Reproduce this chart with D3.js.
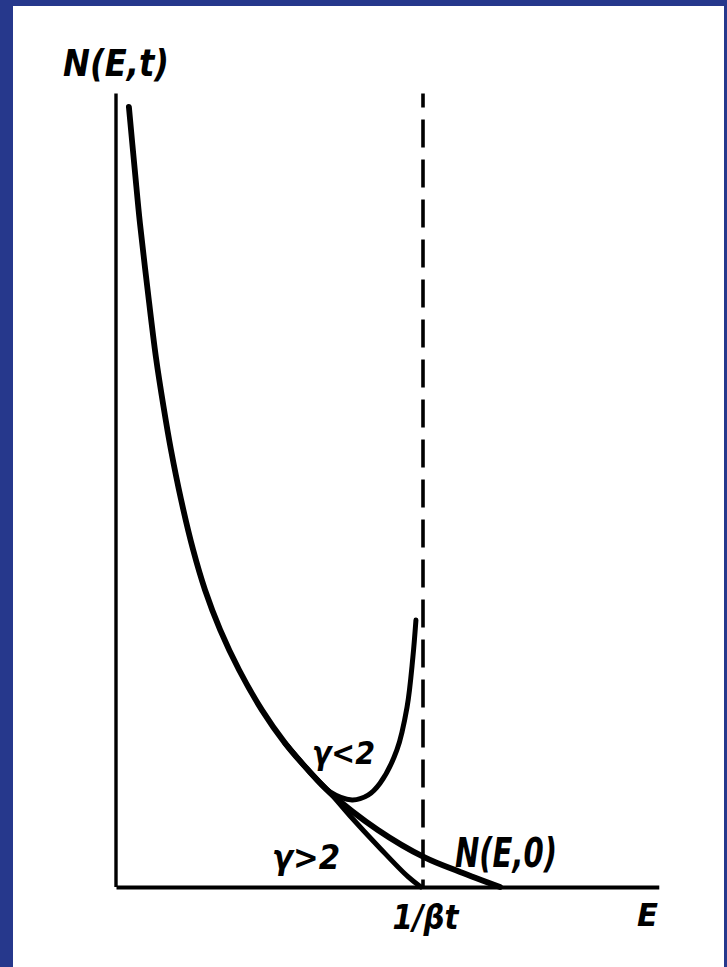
<!DOCTYPE html>
<html>
<head>
<meta charset="utf-8">
<script src="https://cdn.jsdelivr.net/npm/d3@7"></script>
<style>
  html, body { margin: 0; padding: 0; background: #ffffff; }
  svg { display: block; }
  text { font-family: "DejaVu Sans Condensed", "DejaVu Sans", sans-serif; font-style: italic; font-weight: bold; font-stretch: condensed; fill: #000; }
</style>
</head>
<body>
<svg id="chart" width="727" height="967"></svg>
<script>
// Energy spectrum N(E,t) of particles with energy losses; E in units of 1/(beta t).
// Initial spectrum N(E,0)
const initialE = [0.042, 0.062, 0.078, 0.103, 0.130, 0.155, 0.179, 0.212, 0.251, 0.290, 0.339, 0.401, 0.476, 0.550, 0.625, 0.697, 0.853, 1.007, 1.121, 1.251];
const initialN = [9.85, 9.02, 8.38, 7.54, 6.69, 6.06, 5.52, 4.89, 4.26, 3.75, 3.25, 2.74, 2.23, 1.82, 1.48, 1.19, 0.72, 0.37, 0.19, 0.00];

// Spectrum at time t for gamma > 2 (falls to zero at E = 1/(beta t))
const steepE = [0.550, 0.625, 0.697, 0.762, 0.860, 0.951, 0.993];
const steepN = [1.82, 1.48, 1.19, 0.90, 0.49, 0.13, 0.00];

// Spectrum at time t for gamma < 2 (pile-up below E = 1/(beta t))
const flatE = [0.550, 0.625, 0.697, 0.769, 0.821, 0.860, 0.915, 0.948, 0.967, 0.977];
const flatN = [1.82, 1.48, 1.20, 1.10, 1.16, 1.31, 1.73, 2.27, 2.90, 3.37];

// Cut-off energy and axis extents
const cutoffE = [1];
const cutoffLabel = ["1/βt"];
const axisMaxE = 1.768;
const axisMaxN = 10.02;

const svg = d3.select("#chart");
const W = 727, H = 967;

// frame
svg.append("rect").attr("x", 0).attr("y", 0).attr("width", W).attr("height", H).attr("fill", "#26388c");
svg.append("rect").attr("x", 13).attr("y", 6).attr("width", 711).attr("height", 961).attr("fill", "#ffffff");

const x = d3.scaleLinear().domain([0, 1]).range([116, 423]);
const y = d3.scaleLinear().domain([0, 10]).range([887, 95]);

const line = d3.line()
  .x(d => x(d[0]))
  .y(d => y(d[1]))
  .curve(d3.curveCatmullRom.alpha(0.5));

const zip = (a, b) => a.map((v, i) => [v, b[i]]);

// vertical axis
svg.append("path")
  .attr("d", d3.line()([[x(0), y(0)], [x(0), y(axisMaxN)]]))
  .attr("stroke", "#000").attr("stroke-width", 3.4).attr("fill", "none");

// horizontal axis with the cut-off tick label
const xAxis = d3.axisBottom(d3.scaleLinear().domain([0, axisMaxE]).range([x(0), x(axisMaxE)]))
  .tickValues(cutoffE)
  .tickFormat((d, i) => cutoffLabel[i])
  .tickSize(0)
  .tickSizeOuter(0)
  .tickPadding(22);

const gx = svg.append("g").attr("transform", `translate(0,${y(0)})`).call(xAxis);
gx.select(".domain").attr("stroke", "#000").attr("stroke-width", 4);
gx.selectAll(".tick text")
  .attr("font-family", null)
  .attr("font-size", 34)
  .attr("dx", 2)
  .attr("dy", "0.6em")
  .attr("textLength", 66)
  .attr("lengthAdjust", "spacingAndGlyphs");

// dashed line at E = 1/(beta t)
svg.append("path")
  .attr("d", d3.line()([[x(cutoffE[0]), y(axisMaxN)], [x(cutoffE[0]), y(0)]]))
  .attr("stroke", "#000").attr("stroke-width", 3.6)
  .attr("stroke-dasharray", "28,12")
  .attr("stroke-dashoffset", 14)
  .attr("fill", "none");

// curves
svg.append("path").attr("d", line(zip(initialE, initialN)))
  .attr("stroke", "#000").attr("stroke-width", 5.8).attr("fill", "none").attr("stroke-linecap", "round");
svg.append("path").attr("d", line(zip(steepE, steepN)))
  .attr("stroke", "#000").attr("stroke-width", 5).attr("fill", "none").attr("stroke-linecap", "round");
svg.append("path").attr("d", line(zip(flatE, flatN)))
  .attr("stroke", "#000").attr("stroke-width", 5).attr("fill", "none").attr("stroke-linecap", "round");

// labels
function label(txt, px, py, size, len) {
  svg.append("text").attr("x", px).attr("y", py).attr("font-size", size)
    .attr("textLength", len).attr("lengthAdjust", "spacingAndGlyphs").text(txt);
}
label("N(E,t)", 63, 76, 38, 106);
label("γ<2", 312, 764, 32, 63);
label("γ>2", 272, 869, 33, 68);
label("N(E,0)", 455, 867, 40, 102);
label("E", 637, 926, 32, 21);
</script>
</body>
</html>
